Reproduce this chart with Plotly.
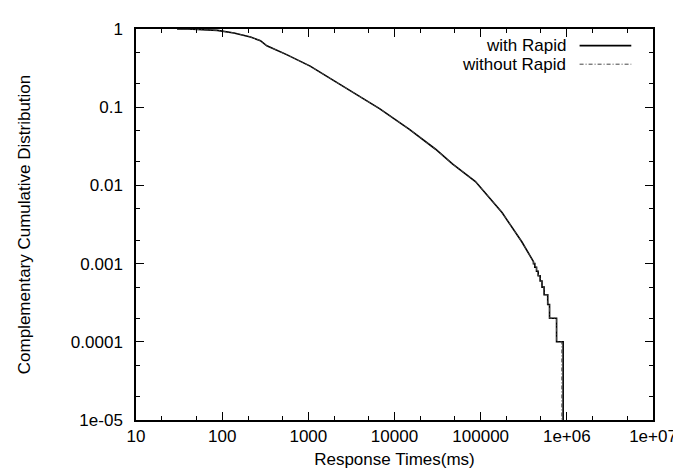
import plotly.graph_objects as go

# ---- data ----
# smooth part of the CCDF (with Rapid)
with_x = [30, 40, 88, 137, 213, 278, 330, 560, 1050, 1620, 3300, 6700, 14900,
          30000, 47000, 87000, 177000, 300000, 410000]
with_y = [1, 1, 0.96, 0.89, 0.79, 0.71, 0.61, 0.47, 0.335, 0.25, 0.155, 0.096,
          0.052, 0.029, 0.0188, 0.0112, 0.0045, 0.0019, 0.00106]
# step tail (levels and x where each level ends)
with_step_y = [0.0010, 0.0009, 0.0008, 0.0007, 0.0006, 0.0005, 0.0004, 0.0003, 0.0002, 0.0001]
with_step_x = [425000, 445000, 465000, 490000, 515000, 545000, 600000, 630000, 760000, 906000]

# without Rapid (indistinguishable except the final drop)
without_x = [30, 40, 88, 137, 213, 278, 330, 560, 1050, 1620, 3300, 6700, 14900,
             30000, 47000, 87000, 177000, 300000, 410000]
without_y = [1, 1, 0.96, 0.89, 0.79, 0.71, 0.61, 0.47, 0.335, 0.25, 0.155, 0.096,
             0.052, 0.029, 0.0188, 0.0112, 0.0045, 0.0019, 0.00106]
without_step_y = [0.0010, 0.0009, 0.0008, 0.0007, 0.0006, 0.0005, 0.0004, 0.0003, 0.0002, 0.0001]
without_step_x = [425000, 445000, 465000, 490000, 515000, 545000, 600000, 630000, 760000, 875000]

floor_y = 1e-7  # CCDF reaches zero (below the visible range)

x_tickvals = [10, 100, 1000, 10000, 100000, 1000000, 10000000]
x_ticktext = ["10", "100", "1000", "10000", "100000", "1e+06", "1e+07"]
y_tickvals = [1e-5, 1e-4, 1e-3, 1e-2, 1e-1, 1]
y_ticktext = ["1e-05", "0.0001", "0.001", "0.01", "0.1", "1"]


def expand(sx, sy, step_y, step_x):
    xs, ys = list(sx), list(sy)
    px = sx[-1]
    for lvl, xe in zip(step_y, step_x):
        xs += [px, xe]
        ys += [lvl, lvl]
        px = xe
    xs.append(px)
    ys.append(floor_y)
    return xs, ys


wx, wy = expand(with_x, with_y, with_step_y, with_step_x)
ox, oy = expand(without_x, without_y, without_step_y, without_step_x)

FONT = "Liberation Sans, Arial, sans-serif"

fig = go.Figure()
fig.add_trace(go.Scatter(x=wx, y=wy, mode="lines", name="with Rapid",
                         line=dict(color="black", width=1.6), showlegend=False))
fig.add_trace(go.Scatter(x=ox, y=oy, mode="lines", name="without Rapid",
                         line=dict(color="#444", width=1, dash="4px,2px,1px,2px"),
                         showlegend=False))

minor_x = []
for d in [10, 100, 1000, 10000, 100000, 1000000]:
    minor_x += [2 * d, 5 * d]
minor_y = []
for d in [1e-5, 1e-4, 1e-3, 1e-2, 1e-1]:
    minor_y += [2 * d, 5 * d]

axis_common = dict(type="log", showgrid=False, zeroline=False, showline=True,
                   linecolor="black", linewidth=1.5, mirror="ticks",
                   ticks="inside", ticklen=8, tickwidth=1, tickcolor="black",
                   tickfont=dict(family=FONT, size=17, color="black"))

fig.update_xaxes(range=[1, 7], tickmode="array", tickvals=x_tickvals, ticktext=x_ticktext,
                 title=dict(text="Response Times(ms)", font=dict(family=FONT, size=17, color="black"),
                            standoff=8),
                 minor=dict(tickmode="array", tickvals=minor_x, ticks="inside", ticklen=4,
                            tickwidth=1, tickcolor="black"),
                 **axis_common)
fig.update_yaxes(range=[-5, 0], tickmode="array", tickvals=y_tickvals, ticktext=y_ticktext,
                 title=dict(text="Complementary Cumulative Distribution",
                            font=dict(family=FONT, size=17, color="black"), standoff=36),
                 minor=dict(tickmode="array", tickvals=minor_y, ticks="inside", ticklen=4,
                            tickwidth=1, tickcolor="black"),
                 ticklabelstandoff=8,
                 **axis_common)

# gnuplot-style key: text right-aligned, sample line to the right
key_rows = [("with Rapid", dict(color="black", width=1.6)),
            ("without Rapid", dict(color="#444", width=1, dash="4px,2px,1px,2px"))]
for i, (label, ln) in enumerate(key_rows):
    yk = 0.9575 - i * 0.0475
    fig.add_annotation(xref="paper", yref="paper", x=0.835, y=yk, text=label,
                       showarrow=False, xanchor="right", yanchor="middle",
                       font=dict(family=FONT, size=17, color="black"))
    fig.add_shape(type="line", xref="paper", yref="paper", x0=0.858, x1=0.958,
                  y0=yk, y1=yk, line=ln)

fig.update_layout(width=681, height=471, margin=dict(l=128, r=32, t=12, b=59),
                  plot_bgcolor="white", paper_bgcolor="white",
                  font=dict(family=FONT, size=17, color="black"))

fig.write_html("out.html")
